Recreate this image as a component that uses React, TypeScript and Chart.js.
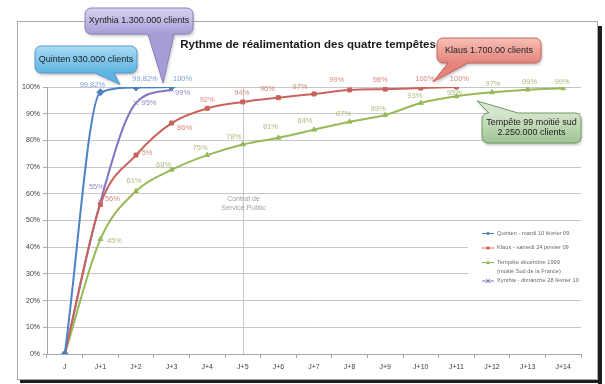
import React, { useEffect, useRef } from 'react';
import { Chart, registerables } from 'chart.js';

Chart.register(...registerables);

// ---------- data ----------
const dayLabels = ['J', 'J+1', 'J+2', 'J+3', 'J+4', 'J+5', 'J+6', 'J+7', 'J+8', 'J+9', 'J+10', 'J+11', 'J+12', 'J+13', 'J+14'];

const quintenValues = [0, 98, 99.82, 100];
const klausValues = [0, 56, 74.5, 86.5, 92, 94.4, 96, 97.4, 98.9, 99.2, 99.6, 100];
const tempete99Values = [0, 43, 61, 69, 74.5, 78.5, 81, 84, 87, 89.5, 94, 96.5, 98, 99, 99.5];
const xynthiaValues = [0, 57, 94, 99];

const quintenLabels = ['', '99,82%', '99,82%', '100%'];
const klausLabels = ['', '56%', '75%', '86%', '92%', '94%', '96%', '97%', '99%', '98%', '100%', '100%'];
const tempete99Labels = ['', '45%', '61%', '68%', '75%', '78%', '81%', '84%', '87%', '89%', '93%', '95%', '97%', '99%', '99%'];
const xynthiaLabels = ['', '55%', '95%', '99%'];

const quintenName = ['Quinten - mardi 10 février 09'];
const klausName = ['Klaus - samedi 24 janvier 09'];
const tempete99Name = ['Tempête décembre 1999', '(moitié Sud de la France)'];
const xynthiaName = ['Xynthia - dimanche 28 février 10'];

const chartTitle = 'Rythme de réalimentation des quatre tempêtes';
const annotationText = ['Contrat de', 'Service Public'];
const annotationDay = 5;

const quintenCallout = ['Quinten 930.000 clients'];
const xynthiaCallout = ['Xynthia 1.300.000 clients'];
const klausCallout = ['Klaus 1.700.00 clients'];
const tempeteCallout = ['Tempête 99 moitié sud', '2.250.000 clients'];

// ---------- styles / positions (not data) ----------
const FONT = '"Liberation Sans", Arial, sans-serif';

const quintenLabelOffsets = [[0, 0], [-8, -7], [9, -9], [11, -8]];
const xynthiaLabelOffsets = [[0, 0], [-4, -15], [13, 0], [11, 3]];
const klausLabelOffsets = [[0, 0], [12, -6], [9, -2], [13, 5], [0, -8], [-1, -9], [-11, -9], [-14, -7], [-13, -10], [-5, -9], [4, -9], [3, -8]];
const tempeteLabelOffsets = [[0, 0], [14, 2], [-2, -10], [-8, -5], [-7, -7], [-9, -7], [-8, -11], [-9, -9], [-6, -8], [-7, -6], [-6, -7], [-2, -3], [1, -8], [2, -8], [-1, -6]];

type Callout = {
  box: { x: number; y: number; w: number; h: number };
  side: 'top' | 'bottom';
  base: [number, number];
  tipIndex: number;
  tipValue: number;
  top: string;
  bottom: string;
  stroke: string;
  lines: string[];
};

const callouts: Callout[] = [
  { box: { x: 35, y: 46, w: 102, h: 27 }, side: 'bottom', base: [95, 114], tipIndex: 1.55, tipValue: 101, top: '#A9DBF3', bottom: '#5DB3E2', stroke: '#5A9AC8', lines: quintenCallout },
  { box: { x: 85, y: 8, w: 108, h: 26 }, side: 'bottom', base: [148, 174], tipIndex: 2.76, tipValue: 101.5, top: '#D8D3F0', bottom: '#A79DD6', stroke: '#8A80BC', lines: xynthiaCallout },
  { box: { x: 437, y: 38, w: 104, h: 25 }, side: 'bottom', base: [448, 468], tipIndex: 10.34, tipValue: 101.9, top: '#F6C0B8', bottom: '#E4847A', stroke: '#C8625A', lines: klausCallout },
  { box: { x: 482, y: 113, w: 99, h: 30 }, side: 'top', base: [489, 518], tipIndex: 11.58, tipValue: 94.8, top: '#D6E6CE', bottom: '#9EC393', stroke: '#6E9A62', lines: tempeteCallout },
];

// ---------- plugins ----------
const framePlugin = {
  id: 'frame',
  beforeDraw(chart: any) {
    const ctx = chart.ctx;
    ctx.save();
    ctx.fillStyle = '#FFFFFF';
    ctx.fillRect(0, 0, chart.width, chart.height);
    ctx.strokeStyle = '#A8A8A8';
    ctx.lineWidth = 1;
    ctx.strokeRect(17.5, 21.5, 580, 358);
    ctx.fillStyle = '#1E1E1E';
    ctx.fillRect(598, 26, 4, 358);
    ctx.fillRect(20, 380, 582, 3);
    ctx.restore();
  },
};

const annotationPlugin = {
  id: 'annotationLine',
  beforeDatasetsDraw(chart: any) {
    const { ctx, chartArea, scales } = chart;
    const x = Math.round(scales.x.getPixelForValue(annotationDay)) + 0.5;
    ctx.save();
    ctx.strokeStyle = '#C8C8C8';
    ctx.lineWidth = 1;
    ctx.beginPath();
    ctx.moveTo(x, chartArea.top);
    ctx.lineTo(x, chartArea.bottom);
    ctx.stroke();
    ctx.fillStyle = '#A0A0A0';
    ctx.font = `7px ${FONT}`;
    ctx.textAlign = 'center';
    ctx.textBaseline = 'middle';
    const y0 = scales.y.getPixelForValue(58);
    annotationText.forEach((t, i) => ctx.fillText(t, x, y0 + i * 9));
    ctx.restore();
  },
};

const dataLabelPlugin = {
  id: 'dataLabels',
  afterDatasetsDraw(chart: any) {
    const ctx = chart.ctx;
    ctx.save();
    ctx.font = `7.5px ${FONT}`;
    ctx.textAlign = 'center';
    ctx.textBaseline = 'middle';
    chart.data.datasets.forEach((ds: any, i: number) => {
      const meta = chart.getDatasetMeta(i);
      ctx.fillStyle = ds.labelColor;
      meta.data.forEach((pt: any, j: number) => {
        const txt = ds.valueLabels[j];
        if (!txt) return;
        const off = ds.labelOffsets[j] || [0, -8];
        ctx.fillText(txt, pt.x + off[0], pt.y + off[1]);
      });
    });
    ctx.restore();
  },
};

function drawMarker(ctx: CanvasRenderingContext2D, style: string, x: number, y: number, r: number, color: string) {
  ctx.save();
  ctx.fillStyle = color;
  ctx.strokeStyle = color;
  ctx.lineWidth = 1;
  ctx.beginPath();
  if (style === 'rectRot') {
    ctx.moveTo(x, y - r); ctx.lineTo(x + r, y); ctx.lineTo(x, y + r); ctx.lineTo(x - r, y); ctx.closePath(); ctx.fill();
  } else if (style === 'rect') {
    ctx.rect(x - r * 0.75, y - r * 0.75, r * 1.5, r * 1.5); ctx.fill();
  } else if (style === 'triangle') {
    ctx.moveTo(x, y - r); ctx.lineTo(x + r, y + r * 0.8); ctx.lineTo(x - r, y + r * 0.8); ctx.closePath(); ctx.fill();
  } else {
    ctx.moveTo(x - r, y - r); ctx.lineTo(x + r, y + r); ctx.moveTo(x + r, y - r); ctx.lineTo(x - r, y + r); ctx.stroke();
  }
  ctx.restore();
}

const legendPlugin = {
  id: 'customLegend',
  afterDraw(chart: any) {
    const ctx = chart.ctx;
    ctx.save();
    ctx.fillStyle = '#FFFFFF';
    ctx.fillRect(468, 224, 113, 70);
    ctx.font = `5.7px ${FONT}`;
    ctx.textAlign = 'left';
    ctx.textBaseline = 'middle';
    let y = 233;
    chart.data.datasets.forEach((ds: any) => {
      ctx.strokeStyle = ds.borderColor;
      ctx.lineWidth = 1;
      ctx.beginPath();
      ctx.moveTo(482, y + 0.5);
      ctx.lineTo(494, y + 0.5);
      ctx.stroke();
      drawMarker(ctx, ds.pointStyle, 488, y + 0.5, 2, ds.borderColor);
      ctx.fillStyle = '#6A6A6A';
      ds.legendLines.forEach((t: string, k: number) => ctx.fillText(t, 497, y + k * 9));
      y += 14.5 + (ds.legendLines.length - 1) * 4;
    });
    ctx.restore();
  },
};

function calloutPath(ctx: CanvasRenderingContext2D, c: Callout, tip: { x: number; y: number }) {
  const { x, y, w, h } = c.box;
  const r = 6;
  const [b1, b2] = c.base;
  ctx.beginPath();
  ctx.moveTo(x + r, y);
  if (c.side === 'top') {
    ctx.lineTo(b1, y);
    ctx.lineTo(tip.x, tip.y);
    ctx.lineTo(b2, y);
  }
  ctx.lineTo(x + w - r, y);
  ctx.arcTo(x + w, y, x + w, y + r, r);
  ctx.lineTo(x + w, y + h - r);
  ctx.arcTo(x + w, y + h, x + w - r, y + h, r);
  if (c.side === 'bottom') {
    ctx.lineTo(b2, y + h);
    ctx.lineTo(tip.x, tip.y);
    ctx.lineTo(b1, y + h);
  }
  ctx.lineTo(x + r, y + h);
  ctx.arcTo(x, y + h, x, y + h - r, r);
  ctx.lineTo(x, y + r);
  ctx.arcTo(x, y, x + r, y, r);
  ctx.closePath();
}

const calloutPlugin = {
  id: 'callouts',
  afterDraw(chart: any) {
    const { ctx, scales } = chart;
    ctx.save();
    // title
    ctx.fillStyle = '#1A1A1A';
    ctx.font = `bold 11.5px ${FONT}`;
    ctx.textAlign = 'center';
    ctx.textBaseline = 'middle';
    ctx.fillText(chartTitle, 308, 45);

    callouts.forEach((c) => {
      const tip = { x: scales.x.getPixelForValue(c.tipIndex), y: scales.y.getPixelForValue(c.tipValue) };
      const g = ctx.createLinearGradient(0, c.box.y, 0, c.box.y + c.box.h);
      g.addColorStop(0, c.top);
      g.addColorStop(1, c.bottom);
      calloutPath(ctx, c, tip);
      ctx.shadowColor = 'rgba(0,0,0,0.25)';
      ctx.shadowBlur = 3;
      ctx.shadowOffsetX = 1;
      ctx.shadowOffsetY = 2;
      ctx.fillStyle = g;
      ctx.fill();
      ctx.shadowColor = 'transparent';
      ctx.strokeStyle = c.stroke;
      ctx.lineWidth = 1;
      ctx.stroke();
      ctx.fillStyle = '#222222';
      ctx.font = `9px ${FONT}`;
      const cx = c.box.x + c.box.w / 2;
      const n = c.lines.length;
      const cy = c.box.y + c.box.h / 2;
      c.lines.forEach((t, k) => ctx.fillText(t, cx, cy + (k - (n - 1) / 2) * 10));
    });
    ctx.restore();
  },
};

// ---------- component ----------
export default function App() {
  const ref = useRef<HTMLCanvasElement>(null);

  useEffect(() => {
    document.body.style.margin = '0';
    const mk = (label: string[], values: number[], color: string, labelColor: string, style: string, radius: number, labels: string[], offsets: number[][]) => ({
      label: label.join(' '),
      legendLines: label,
      data: values,
      borderColor: color,
      backgroundColor: color,
      pointBackgroundColor: color,
      pointBorderColor: color,
      pointStyle: style,
      pointRadius: radius,
      pointBorderWidth: 1,
      borderWidth: 2,
      cubicInterpolationMode: 'monotone',
      fill: false,
      valueLabels: labels,
      labelOffsets: offsets,
      labelColor,
    });

    const chart = new Chart(ref.current as HTMLCanvasElement, {
      type: 'line',
      data: {
        labels: dayLabels,
        datasets: [
          mk(quintenName, quintenValues, '#4C82C4', '#7B9FD3', 'rectRot', 3.5, quintenLabels, quintenLabelOffsets),
          mk(klausName, klausValues, '#C9635B', '#D4887F', 'rect', 2.8, klausLabels, klausLabelOffsets),
          mk(tempete99Name, tempete99Values, '#95BA57', '#A9BF7E', 'triangle', 2.8, tempete99Labels, tempeteLabelOffsets),
          mk(xynthiaName, xynthiaValues, '#7F76BF', '#8F8BC8', 'crossRot', 3, xynthiaLabels, xynthiaLabelOffsets),
        ] as any,
      },
      options: {
        responsive: false,
        animation: false,
        devicePixelRatio: 1,
        layout: { padding: { top: 87, right: 24, bottom: 0, left: 0 } },
        plugins: {
          legend: { display: false },
          tooltip: { enabled: false },
          title: { display: false },
        },
        scales: {
          x: {
            type: 'category',
            offset: true,
            grid: { offset: true, drawOnChartArea: false, drawTicks: true, tickLength: 4, tickColor: '#A6A6A6' },
            border: { display: true, color: '#A6A6A6' },
            ticks: { color: '#404040', font: { family: FONT, size: 7 }, padding: 5, maxRotation: 0, autoSkip: false },
            afterFit: (s: any) => { s.height = 30; },
          },
          y: {
            min: 0,
            max: 100,
            ticks: { stepSize: 10, callback: (v: any) => v + '%', color: '#404040', font: { family: FONT, size: 7 }, padding: 3 },
            grid: { color: '#C6C6C6', tickLength: 4, tickColor: '#A6A6A6' },
            border: { display: true, color: '#A6A6A6' },
            afterFit: (s: any) => { s.width = 47; },
          },
        },
      } as any,
      plugins: [framePlugin, annotationPlugin, dataLabelPlugin, legendPlugin, calloutPlugin],
    });
    return () => chart.destroy();
  }, []);

  return (
    <div style={{ position: 'relative', width: 605, height: 384 }}>
      <canvas ref={ref} width={605} height={384} style={{ display: 'block', width: 605, height: 384 }} />
    </div>
  );
}
